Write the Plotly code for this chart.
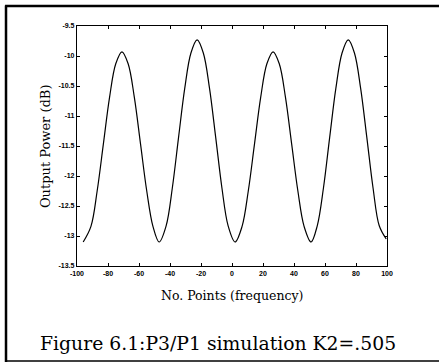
import plotly.graph_objects as go

# Data
x_points = [-96, -91, -87, -83, -79, -75, -71, -67, -63, -59, -55, -51, -47,
            -42.5, -38.5, -34.5, -30.5, -26.5, -22.5, -18.5, -14.5, -10.5, -6.5, -2.5, 2,
            6.5, 10.5, 14.5, 18.5, 22.5, 26.5, 30.5, 34.5, 38.5, 42.5, 46.5, 51,
            55, 59, 63, 67, 71, 75, 79, 83, 87, 91, 95, 99.5]
output_power = [-13.10, -12.84, -12.25, -11.47, -10.69, -10.13, -9.93, -10.13, -10.69, -11.47, -12.25, -12.84, -13.10,
                -12.83, -12.20, -11.36, -10.54, -9.95, -9.73, -9.95, -10.54, -11.36, -12.20, -12.83, -13.10,
                -12.84, -12.25, -11.47, -10.69, -10.13, -9.93, -10.13, -10.69, -11.47, -12.25, -12.84, -13.10,
                -12.83, -12.20, -11.36, -10.54, -9.95, -9.73, -9.95, -10.54, -11.36, -12.20, -12.83, -13.05]

x_tick_vals = [-100, -80, -60, -40, -20, 0, 20, 40, 60, 80, 100]
x_tick_text = ["-100", "-80", "-60", "-40", "-20", "0", "20", "40", "60", "80", "100"]
y_tick_vals = [-9.5, -10, -10.5, -11, -11.5, -12, -12.5, -13, -13.5]
y_tick_text = ["-9.5", "-10", "-10.5", "-11", "-11.5", "-12", "-12.5", "-13", "-13.5"]

x_title = "No. Points (frequency)"
y_title = "Output Power (dB)"
caption = "Figure 6.1:P3/P1 simulation K2=.505"

fig = go.Figure()
fig.add_trace(go.Scatter(x=x_points, y=output_power, mode="lines",
                         line=dict(color="black", width=1.2, shape="spline", smoothing=1.0),
                         hoverinfo="skip", showlegend=False))

tick_font = dict(family="Liberation Sans, Arial", size=7, color="black", weight="bold")
axis_common = dict(showgrid=False, zeroline=False, showline=True, linecolor="black",
                   linewidth=1.3, mirror="ticks", ticks="inside", ticklen=3,
                   tickcolor="black", tickwidth=1, tickfont=tick_font)

fig.update_xaxes(range=[-100, 100], tickvals=x_tick_vals, ticktext=x_tick_text, **axis_common)
fig.update_yaxes(range=[-13.5, -9.5], tickvals=y_tick_vals, ticktext=y_tick_text, **axis_common)

serif = "DejaVu Serif, serif"
fig.update_layout(
    width=439, height=362,
    margin=dict(l=77, r=52, t=26, b=96),
    paper_bgcolor="white", plot_bgcolor="white",
    annotations=[
        dict(text=x_title, xref="paper", yref="paper", x=0.5, y=-0.121,
             showarrow=False, font=dict(family=serif, size=12.5, color="black"),
             xanchor="center", yanchor="middle"),
        dict(text=y_title, xref="paper", yref="paper", x=-0.103, y=0.5,
             showarrow=False, textangle=-90, font=dict(family=serif, size=13, color="black"),
             xanchor="center", yanchor="middle"),
        dict(text=caption, xref="paper", yref="paper", x=0.455, y=-0.322,
             showarrow=False, font=dict(family=serif, size=18.8, color="black"),
             xanchor="center", yanchor="middle"),
    ],
    shapes=[
        dict(type="line", xref="paper", yref="paper", x0=-0.229, x1=-0.229, y0=1.085, y1=-0.40,
             line=dict(color="black", width=2.5)),
        dict(type="line", xref="paper", yref="paper", x0=-0.232, x1=1.17, y0=1.083, y1=1.083,
             line=dict(color="black", width=2.5)),
        dict(type="line", xref="paper", yref="paper", x0=-0.232, x1=1.17, y0=-0.396, y1=-0.396,
             line=dict(color="black", width=1.5)),
    ],
)

fig.write_html("out.html")
